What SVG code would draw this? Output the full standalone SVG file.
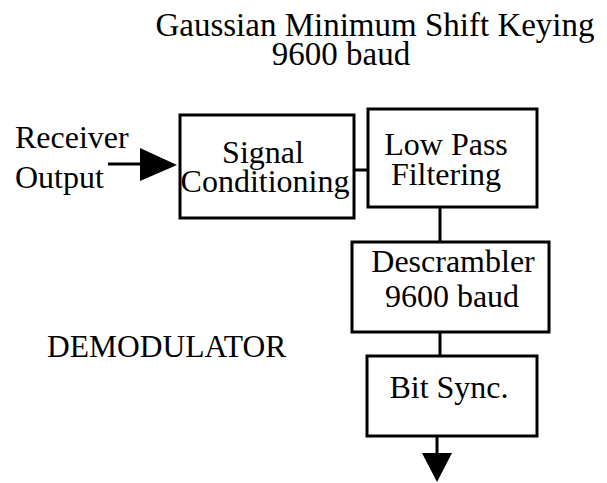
<svg xmlns="http://www.w3.org/2000/svg" width="607" height="483" viewBox="0 0 607 483">
<style>
text{font-family:"Liberation Serif","Times New Roman",serif;font-size:32px;fill:#000}
.c{text-anchor:middle}
.box{fill:#fff;stroke:#000;stroke-width:3}
.ln{stroke:#000;stroke-width:3;fill:none}
</style>
<rect width="607" height="483" fill="#fff"/>
<g id="title">
<text x="375" y="36" class="c" style="font-size:33px">Gaussian Minimum Shift Keying</text>
<text x="341" y="65" class="c" style="font-size:33px">9600 baud</text>
</g>
<g id="label-input">
<text x="15" y="148">Receiver</text>
<text x="15" y="188">Output</text>
</g>
<g id="label-demod">
<text x="47" y="357" style="font-size:31.5px">DEMODULATOR</text>
</g>
<g id="connectors">
<line class="ln" x1="108" y1="164" x2="142" y2="164"/>
<polygon points="140,148 177,165 140,181" fill="#000"/>
<line class="ln" x1="354" y1="170" x2="368" y2="170"/>
<line class="ln" x1="440" y1="207" x2="440" y2="242"/>
<line class="ln" x1="440" y1="332" x2="440" y2="356"/>
<line class="ln" x1="437" y1="436" x2="437" y2="455"/>
<polygon points="422,453 452,453 437,482" fill="#000"/>
</g>
<g id="signal-conditioning">
<rect class="box" x="180" y="115" width="174" height="103"/>
<text x="263" y="163" class="c">Signal</text>
<text x="265" y="192" class="c">Conditioning</text>
</g>
<g id="low-pass">
<rect class="box" x="368" y="109" width="169" height="98"/>
<text x="446" y="155" class="c">Low Pass</text>
<text x="446" y="185" class="c">Filtering</text>
</g>
<g id="descrambler">
<rect class="box" x="352" y="242" width="197" height="90"/>
<text x="453" y="272" class="c">Descrambler</text>
<text x="452" y="307" class="c">9600 baud</text>
</g>
<g id="bit-sync">
<rect class="box" x="367" y="356" width="170" height="80"/>
<text x="449" y="398" class="c">Bit Sync.</text>
</g>
</svg>
